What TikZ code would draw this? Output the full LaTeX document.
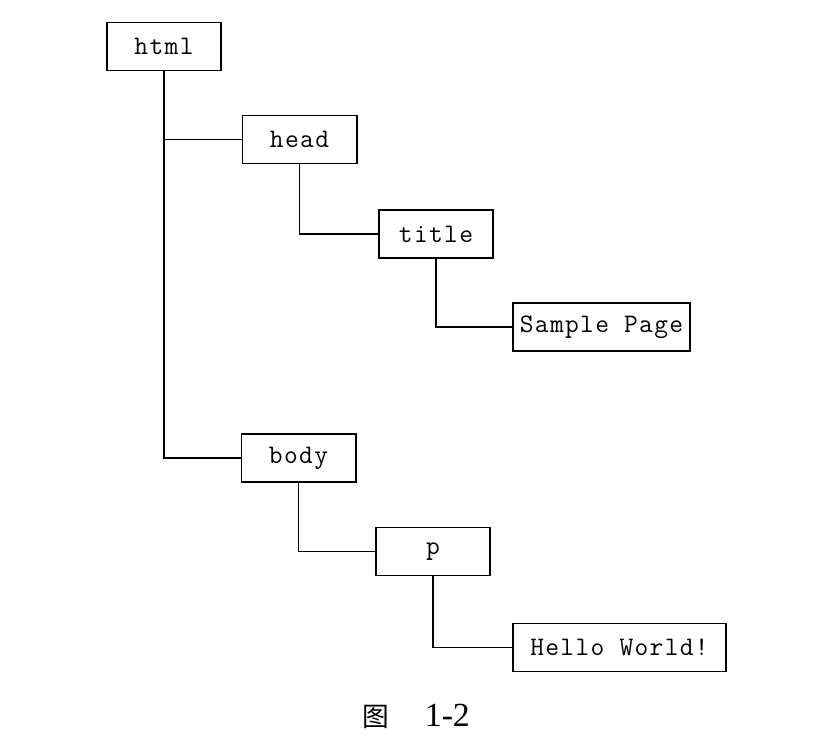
\documentclass[tikz,border=0pt]{standalone}
\usepackage{fontspec}
\setmainfont{Liberation Serif}
\newfontfamily\cjk{Noto Sans CJK SC}
\newfontfamily\codefont[LetterSpace=5]{Latin Modern Mono}
\usepackage{tikz}

\tikzset{
    tag/.style={draw, line width=1.4pt, minimum width=2.85cm, minimum height=1.2cm,
        inner sep=0pt, font=\codefont\fontsize{19}{22}\selectfont},
    link/.style={line width=1.2pt}
}

\begin{document}
\begin{tikzpicture}[x=0.025cm, y=-0.025cm]
    \useasboundingbox (0, 0) rectangle (820, 754);
    \node[tag] (html) at (164, 46.5) {html};
    \node[tag] (head) at (299.5, 139.5) {head};
    \node[tag] (title) at (436, 234) {title};
    \node[tag, minimum width=4.425cm] (sample) at (601.5, 327) {Sample Page};
    \node[tag] (body) at (298.5, 458) {body};
    \node[tag] (p) at (433, 551.5) {p};
    \node[tag, minimum width=5.325cm] (hello) at (619.5, 647.5) {Hello World!};
    \draw[link] (html.south) |- (head.west);
    \draw[link] (html.south) |- (body.west);
    \draw[link] (head.south) |- (title.west);
    \draw[link] (title.south) |- (sample.west);
    \draw[link] (body.south) |- (p.west);
    \draw[link] (p.south) |- (hello.west);
    \node (caption) at (416, 716) {{\cjk\fontsize{19}{22}\selectfont 图}\hspace{0.9cm}{\fontsize{24}{28}\selectfont 1-2}};
\end{tikzpicture}
\end{document}
